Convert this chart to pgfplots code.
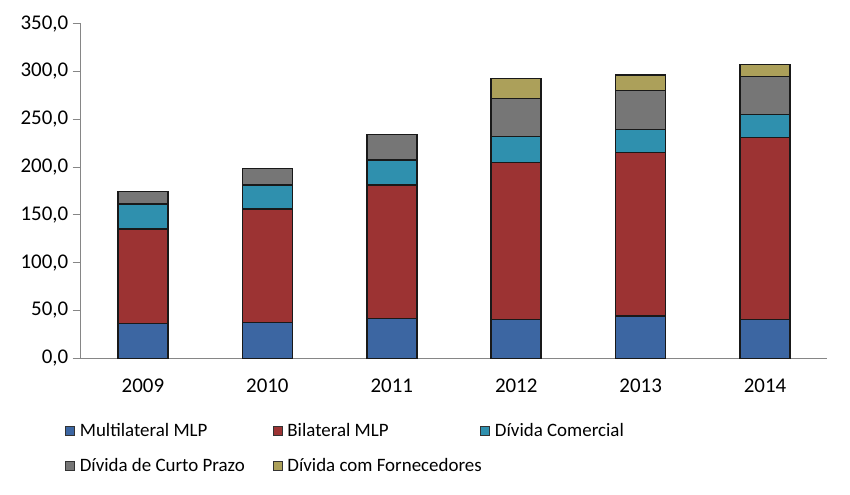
\documentclass[border=0pt]{standalone}
\usepackage{pgfplots}
\pgfplotsset{compat=1.18}
\usepackage{fontspec}
\setmainfont{Carlito}

\definecolor{cMulti}{HTML}{3C66A2}
\definecolor{cBil}{HTML}{9C3333}
\definecolor{cCom}{HTML}{2F90AE}
\definecolor{cCurto}{HTML}{767676}
\definecolor{cForn}{HTML}{ACA05A}
\definecolor{axgray}{HTML}{868686}

\begin{document}
\begin{tikzpicture}[x=1bp,y=1bp]
\useasboundingbox (0,0) rectangle (850,495);
\begin{axis}[
  at={(80.7bp,136.7bp)}, anchor=south west,
  scale only axis, width=746.6bp, height=334.6bp,
  ybar stacked, bar width=50bp,
  xmin=-0.5, xmax=5.5, ymin=0, ymax=350,
  axis lines*=left,
  axis line style={axgray, line width=0.8bp},
  every tick/.style={axgray, line width=0.8bp},
  tick align=outside,
  xtick={0,...,5},
  xticklabels={2009,2010,2011,2012,2013,2014},
  x tick style={draw=none},
  extra x ticks={-0.5,0.5,1.5,2.5,3.5,4.5,5.5},
  extra x tick labels={},
  extra x tick style={major tick length=7bp, tick style={axgray, line width=0.8bp}},
  ytick={0,50,...,350},
  major tick length=8bp,
  yticklabel={\pgfmathprintnumber[fixed,fixed zerofill,precision=1,use comma]{\tick}},
  /pgf/number format/assume math mode=true,
  ticklabel style={font=\fontsize{21}{25}\selectfont, text=black},
  xticklabel style={yshift=-9bp},
  yticklabel style={xshift=-1bp},
  legend columns=3,
  legend style={draw=none, fill=none, at={(-0.025,-0.183)}, anchor=north west,
    font=\fontsize{19}{23}\selectfont,
    /tikz/every even column/.append style={column sep=0bp},
    row sep=16bp},
  legend image code/.code={\draw[#1, draw=black!80, line width=0.6bp] (0bp,-4.5bp) rectangle (9bp,4.5bp);},
  every axis plot/.append style={draw=black!90, line width=1.5bp},
]
\addplot[fill=cMulti]
  coordinates {(0,36.6) (1,37.7) (2,41.8) (3,40.8) (4,44.2) (5,40.8)};
\addlegendentry{\hspace{3bp}\makebox[191bp][l]{Multilateral MLP}}
\addplot[fill=cBil]
  coordinates {(0,98.4) (1,118.5) (2,139.5) (3,164.2) (4,171.3) (5,190.0)};
\addlegendentry{\hspace{3bp}\makebox[191bp][l]{Bilateral MLP}}
\addplot[fill=cCom]
  coordinates {(0,26.4) (1,25.1) (2,26.1) (3,26.8) (4,24.0) (5,24.4)};
\addlegendentry{\hspace{3bp}\makebox[191bp][l]{Dívida Comercial}}
\addplot[fill=cCurto]
  coordinates {(0,12.9) (1,17.4) (2,26.9) (3,40.2) (4,40.4) (5,39.4)};
\addlegendentry{\hspace{3bp}\makebox[191bp][l]{Dívida de Curto Prazo}}
\addplot[fill=cForn]
  coordinates {(0,0) (1,0) (2,0) (3,20.9) (4,16.4) (5,12.9)};
\addlegendentry{\hspace{3bp}\makebox[191bp][l]{Dívida com Fornecedores}}
\end{axis}
\end{tikzpicture}
\end{document}
